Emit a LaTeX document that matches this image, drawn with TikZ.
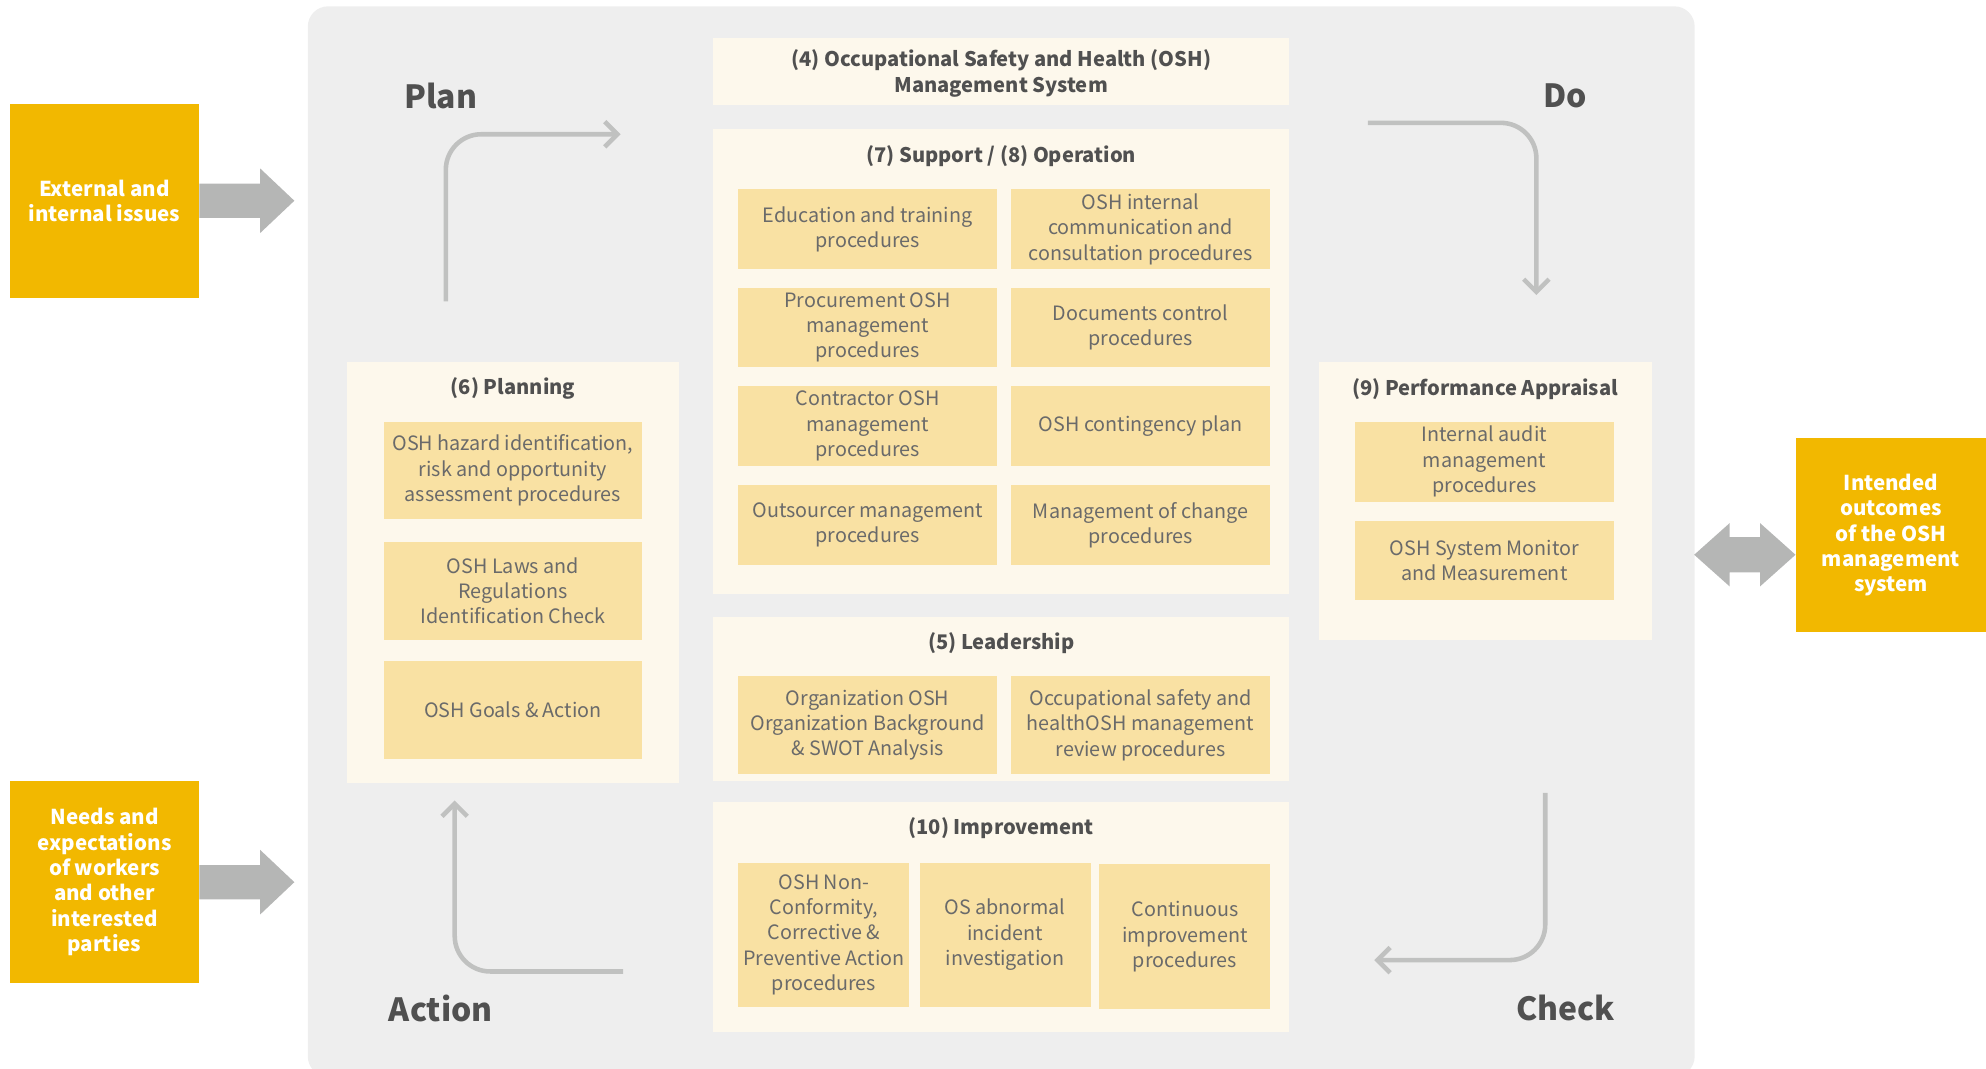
\documentclass[tikz,border=0pt]{standalone}
\usepackage{fontspec}
\setmainfont{Noto Sans CJK JP}
\usepackage{tikz}
\usetikzlibrary{arrows.meta}
\definecolor{ochre}{HTML}{F2B800}
\definecolor{panelbg}{HTML}{EEEEEE}
\definecolor{cream}{HTML}{FDF8EC}
\definecolor{sand}{HTML}{F9E1A3}
\definecolor{ink}{HTML}{505050}
\definecolor{pale}{HTML}{B5B6B5}
\tikzstyle{issue} = [fill=ochre, text=white, font=\fontsize{8.1}{10}\selectfont\bfseries, align=center, minimum width=74.5pt, inner sep=0pt]
\tikzstyle{clause} = [fill=cream, inner sep=0pt, minimum width=227.5pt]
\tikzstyle{title} = [text=ink, font=\fontsize{7.95}{10}\selectfont\bfseries, align=center]
\tikzstyle{proc} = [fill=sand, text=ink!85, font=\fontsize{7.8}{10}\selectfont, align=center, minimum width=102pt, inner sep=0pt]
\tikzstyle{phase} = [text=ink, font=\fontsize{12.6}{15}\selectfont\bfseries]
\tikzstyle{pdca} = [draw=pale!85!white, line width=1.8pt, rounded corners=14pt, -{Straight Barb[length=5pt,width=10pt]}]
\tikzstyle{bigarrow} = [fill=pale]

\begin{document}
\begin{tikzpicture}[x=0.5pt, y=-0.5pt]
    \useasboundingbox (0,0) rectangle (1568,844);
    \fill[panelbg, rounded corners=8pt] (243,5) rectangle (1338,850);
    \node[issue, minimum height=76.5pt] (ext) at (82.5,158.5) {External and\\internal issues};
    \node[issue, minimum height=79.5pt] (needs) at (82.5,696.5) {Needs and\\expectations\\of workers\\and other\\interested\\parties};
    \node[issue, minimum width=75pt, minimum height=76.5pt] (outc) at (1493,422.5) {Intended\\outcomes\\of the OSH\\management\\system};
    \fill[bigarrow] (ext.east) ++(0,-13.5) -- ++(48,0) -- ++(0,-12) -- ++(27,25.5) -- ++(-27,25.5) -- ++(0,-12) -- ++(-48,0) -- cycle;
    \fill[bigarrow] (needs.east) ++(0,-13.5) -- ++(48,0) -- ++(0,-12) -- ++(27,25.5) -- ++(-27,25.5) -- ++(0,-12) -- ++(-48,0) -- cycle;
    \fill[bigarrow] (outc.west |- 0,438) -- ++(-28,-25) -- ++(0,11) -- ++(-24,0) -- ++(0,-11) -- ++(-28,25) -- ++(28,25) -- ++(0,-11) -- ++(24,0) -- ++(0,11) -- cycle;

    \node[clause, minimum height=26.5pt] (osh) at (790.5,56.5) {};
    \node[title] (osh-t) at (790.5,58) {(4) Occupational Safety and Health (OSH)\\Management System};

    \node[clause, minimum height=183.5pt] (supp) at (790.5,285.5) {};
    \node[title] (supp-t) at (790.5,123) {(7) Support / (8) Operation};
    \node[proc, minimum height=31.5pt] (edu) at (685,181) {Education and training\\procedures};
    \node[proc, minimum height=31.5pt] (comm) at (900.5,181) {OSH internal\\communication and\\consultation procedures};
    \node[proc, minimum height=31.5pt] (proc) at (685,258.5) {Procurement OSH\\management\\procedures};
    \node[proc, minimum height=31.5pt] (docs) at (900.5,258.5) {Documents control\\procedures};
    \node[proc, minimum height=31.5pt] (contr) at (685,336.5) {Contractor OSH\\management\\procedures};
    \node[proc, minimum height=31.5pt] (cont) at (900.5,336.5) {OSH contingency plan};
    \node[proc, minimum height=31.5pt] (outs) at (685,414.5) {Outsourcer management\\procedures};
    \node[proc, minimum height=31.5pt] (moc) at (900.5,414.5) {Management of change\\procedures};

    \node[clause, minimum height=65pt] (lead) at (790.5,552) {};
    \node[title] (lead-t) at (790.5,508) {(5) Leadership};
    \node[proc, minimum height=38.5pt] (org) at (685,572.5) {Organization OSH\\Organization Background\\\& SWOT Analysis};
    \node[proc, minimum height=38.5pt] (rev) at (900.5,572.5) {Occupational safety and\\healthOSH management\\review procedures};

    \node[clause, minimum height=91pt] (impr) at (790.5,724) {};
    \node[title] (impr-t) at (790.5,654) {(10) Improvement};
    \node[proc, minimum width=67.5pt, minimum height=57pt] (ncr) at (650.5,738) {OSH Non-\\Conformity,\\Corrective \&\\Preventive Action\\procedures};
    \node[proc, minimum width=67.5pt, minimum height=57pt] (inc) at (793.5,738) {OS abnormal\\incident\\investigation};
    \node[proc, minimum width=67.5pt, minimum height=57pt] (ci) at (935.5,739.5) {Continuous\\improvement\\procedures};

    \node[clause, minimum width=131pt, minimum height=166pt] (plan) at (405,452) {};
    \node[title] (plan-t) at (405,307) {(6) Planning};
    \node[proc, minimum height=38.5pt] (haz) at (405,371.5) {OSH hazard identification,\\risk and opportunity\\assessment procedures};
    \node[proc, minimum height=38.5pt] (laws) at (405,466.5) {OSH Laws and\\Regulations\\Identification Check};
    \node[proc, minimum height=38.5pt] (goals) at (405,560.5) {OSH Goals \& Action};

    \node[clause, minimum width=131.5pt, minimum height=109.5pt] (perf) at (1172.5,395.5) {};
    \node[title] (perf-t) at (1172.5,307) {(9) Performance Appraisal};
    \node[proc, minimum height=31.5pt] (audit) at (1172,364.5) {Internal audit\\management\\procedures};
    \node[proc, minimum height=31.5pt] (mon) at (1172,442.5) {OSH System Monitor\\and Measurement};

    \node[phase] (p-plan) at (348,76) {Plan};
    \node[phase] (p-do) at (1236,76) {Do};
    \node[phase] (p-act) at (348,796) {Action};
    \node[phase] (p-chk) at (1236,796) {Check};
    \coordinate (planS) at (352,238);
    \coordinate (planE) at (490,106);
    \coordinate (doS) at (1080,97);
    \coordinate (doE) at (1213,233);
    \coordinate (chkS) at (1220,626);
    \coordinate (chkE) at (1085,758);
    \coordinate (actS) at (492,767);
    \coordinate (actE) at (359,632);
    \draw[pdca] (planS) |- (planE);
    \draw[pdca] (doS) -| (doE);
    \draw[pdca] (chkS) |- (chkE);
    \draw[pdca] (actS) -| (actE);
\end{tikzpicture}
\end{document}
